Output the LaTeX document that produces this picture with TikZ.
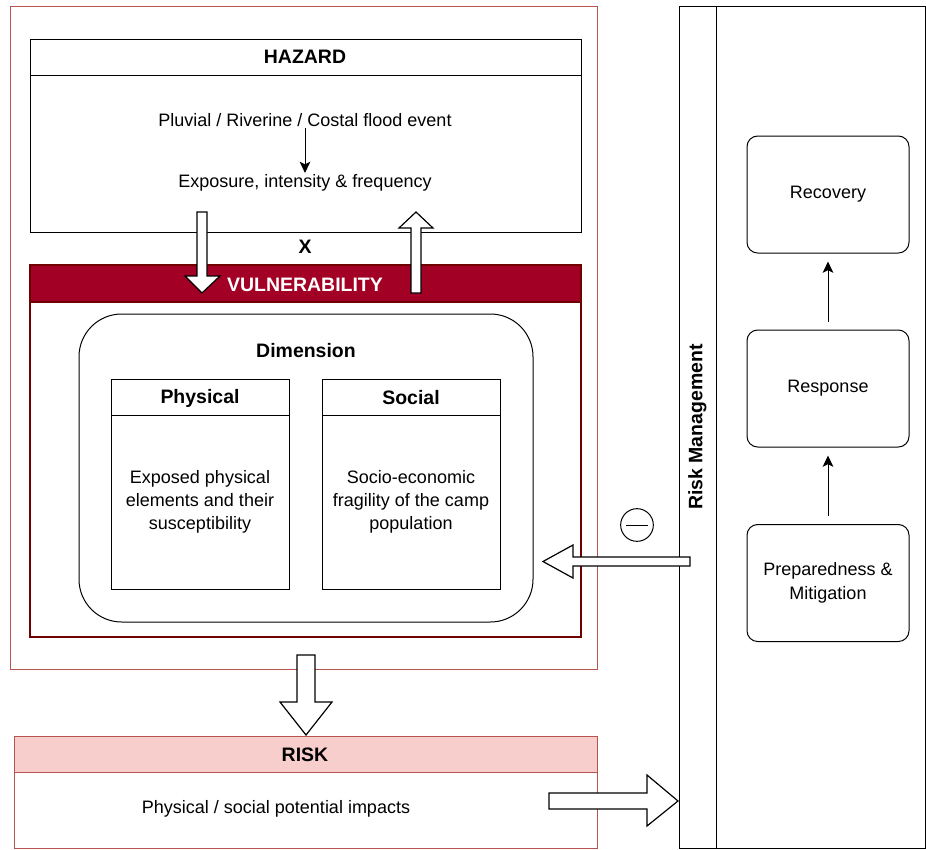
\documentclass[tikz,border=0pt]{standalone}
\usepackage{fontspec}
\setmainfont{Liberation Sans}
\usetikzlibrary{arrows.meta,fit}
\definecolor{pinkline}{HTML}{B85450}
\definecolor{pinkfill}{HTML}{F8CECC}
\definecolor{vulnred}{HTML}{A20025}
\definecolor{vulnline}{HTML}{6F0000}
\tikzstyle{box}=[draw=black,line width=0.75pt,inner sep=0pt,fill=white]
\tikzstyle{txt}=[font=\fontsize{13.5pt}{17.5pt}\selectfont,align=center,inner sep=1pt]
\tikzstyle{hd}=[font=\fontsize{14.6pt}{17pt}\selectfont\bfseries,inner sep=1pt]
\tikzstyle{phase}=[box,rounded corners=8pt,txt,minimum width=121.5pt,minimum height=87.75pt]
\tikzstyle{a}=[-{Stealth[length=8.5pt,width=8pt,inset=2pt]},line width=0.75pt]
\tikzstyle{barrow}=[draw=black,fill=white,line width=0.9pt,line join=miter]

\begin{document}
\begin{tikzpicture}[x=0.75pt,y=-0.75pt]
    \useasboundingbox (0,0) rectangle (926,850);
    % outer frame and hazard
    \node[box,draw=pinkline,fit={(10,6) (597,669)}] (outer) {};
    \node[box,fit={(30,39) (581,232)}] (haz) {};
    \draw[line width=0.75pt] (30,75) -- (581,75);
    \node[hd] (hazt) at (305,57) {HAZARD};
    \node[txt] (pluv) at (305,120) {Pluvial / Riverine / Costal flood event};
    \node[txt] (expo) at (305,183) {Exposure, intensity \& frequency};
    \draw[a] (pluv) -- (expo);
    \node[hd] (times) at (305,247) {X};
    % vulnerability
    \node[box,draw=vulnline,line width=1.5pt,fit={(30,265) (581,637)}] (vul) {};
    \draw[draw=vulnline,fill=vulnred,line width=1.5pt] (30,265) rectangle (581,302);
    \node[hd,text=white] (vult) at (305,285) {VULNERABILITY};
    \node[box,rounded corners=32pt,fit={(79,314) (533,622)}] (dim) {};
    \node[hd] (dimt) at (306,351) {Dimension};
    \node[box,fit={(111,379) (289,589)}] (phys) {};
    \draw[line width=0.75pt] (111,415) -- (289,415);
    \node[hd] (physt) at (200,398) {Physical};
    \node[txt] (physd) at (200,502) {Exposed physical\\elements and their\\susceptibility};
    \node[box,fit={(322,379) (500,589)}] (soc) {};
    \draw[line width=0.75pt] (322,415) -- (500,415);
    \node[hd] (soct) at (411,398) {Social};
    \node[txt] (socd) at (411,502) {Socio-economic\\fragility of the camp\\population};
    % risk
    \node[box,draw=pinkline,fit={(14,736) (597,848)}] (risk) {};
    \draw[draw=pinkline,fill=pinkfill,line width=0.75pt] (14,736) rectangle (597,772);
    \node[hd] (riskt) at (305,755) {RISK};
    \node[txt] (riskd) at (276,809) {Physical / social potential impacts};
    % risk management
    \node[box,fit={(679,6) (925.5,848)}] (rm) {};
    \draw[line width=0.75pt] (716,6) -- (716,848);
    \node[hd,rotate=90] (rmt) at (697.5,427) {Risk Management};
    \node[phase] (rec) at (828,194.5) {Recovery};
    \node[phase] (resp) at (828,388.5) {Response};
    \node[phase] (prep) at (828,583) {Preparedness \&\\Mitigation};
    \draw[a,shorten <=6pt,shorten >=6pt] (prep) -- (resp);
    \draw[a,shorten <=6pt,shorten >=6pt] (resp) -- (rec);
    \node[circle,draw,line width=0.75pt,minimum size=24.5pt,inner sep=0pt] (minus) at (637,525) {};
    \draw[line width=0.75pt] ([xshift=4.5pt]minus.west) -- ([xshift=-4.5pt]minus.east);
    % block arrows
    \draw[barrow] (197,212) -- (207,212) -- (207,276) -- (220,276) -- (202,293) -- (185,276) -- (197,276) -- cycle;
    \draw[barrow] (411,293) -- (421,293) -- (421,228) -- (433,228) -- (416,212) -- (399,228) -- (411,228) -- cycle;
    \draw[barrow] (690,557) -- (690,566) -- (573,566) -- (573,578) -- (543,561.5) -- (573,545) -- (573,557) -- cycle;
    \draw[barrow] (297,655) -- (315,655) -- (315,702) -- (332,702) -- (306,735) -- (280,702) -- (297,702) -- cycle;
    \draw[barrow] (549,793) -- (647,793) -- (647,775) -- (678,801) -- (647,826) -- (647,809) -- (549,809) -- cycle;
\end{tikzpicture}
\end{document}
